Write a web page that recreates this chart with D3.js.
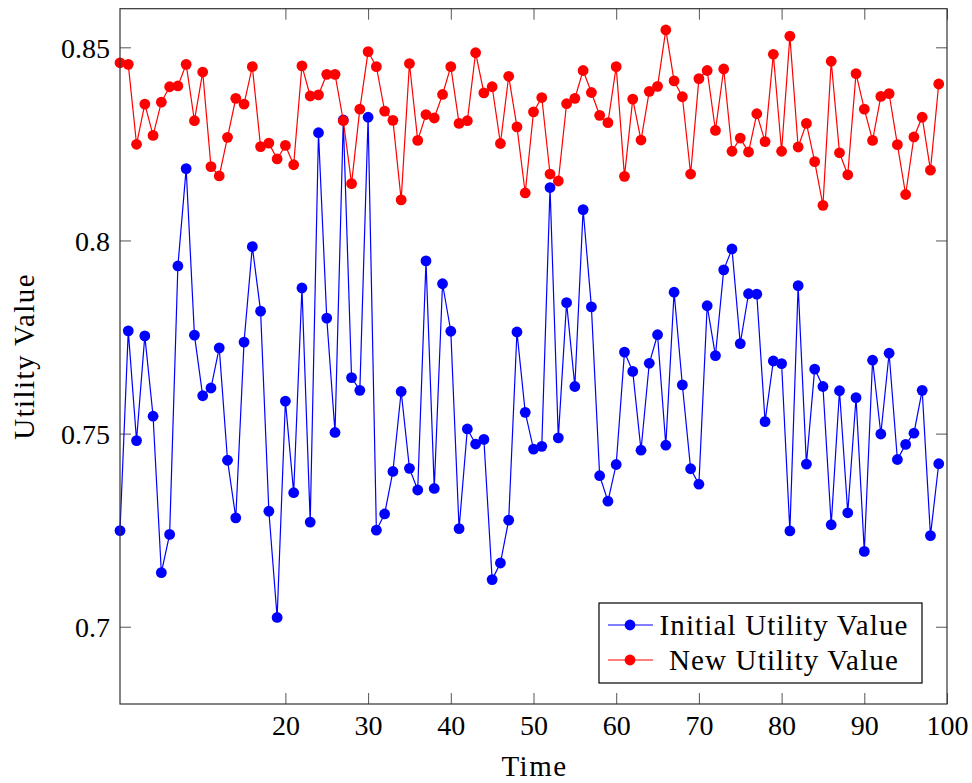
<!DOCTYPE html>
<html>
<head>
<meta charset="utf-8">
<script src="https://cdn.jsdelivr.net/npm/d3@7"></script>
<style>
  html, body { margin: 0; padding: 0; background: #fff; }
  svg { display: block; font-family: "Liberation Serif", "Times New Roman", serif; }
</style>
</head>
<body>
<svg id="chart" width="972" height="783"></svg>
<script>
// Utility values recorded at each time step (t = 0 … 99)
const initialUtility = [
  0.7249, 0.7766, 0.7482, 0.7753, 0.7545, 0.7140, 0.7239, 0.7934, 0.8186, 0.7755,
  0.7598, 0.7618, 0.7722, 0.7431, 0.7282, 0.7737, 0.7984, 0.7817, 0.7299, 0.7024,
  0.7584, 0.7347, 0.7877, 0.7271, 0.8279, 0.7799, 0.7503, 0.8312, 0.7645, 0.7612,
  0.8319, 0.7250, 0.7292, 0.7402, 0.7609, 0.7410, 0.7354, 0.7947, 0.7358, 0.7888,
  0.7765, 0.7254, 0.7512, 0.7473, 0.7485, 0.7122, 0.7165, 0.7276, 0.7763, 0.7555,
  0.7460, 0.7467, 0.8137, 0.7489, 0.7839, 0.7622, 0.8080, 0.7828, 0.7391, 0.7325,
  0.7420, 0.7711, 0.7661, 0.7457, 0.7682, 0.7756, 0.7470, 0.7866, 0.7626, 0.7409,
  0.7369, 0.7831, 0.7702, 0.7924, 0.7978, 0.7733, 0.7862, 0.7861, 0.7531, 0.7688,
  0.7681, 0.7248, 0.7883, 0.7421, 0.7667, 0.7622, 0.7264, 0.7611, 0.7295, 0.7593,
  0.7195, 0.7690, 0.7499, 0.7708, 0.7433, 0.7472, 0.7501, 0.7612, 0.7236, 0.7422
];

const newUtility = [
  0.8460, 0.8456, 0.8249, 0.8353, 0.8272, 0.8358, 0.8398, 0.8400, 0.8456, 0.8310,
  0.8436, 0.8191, 0.8167, 0.8267, 0.8368, 0.8353, 0.8450, 0.8243, 0.8252, 0.8211,
  0.8246, 0.8196, 0.8452, 0.8374, 0.8377, 0.8430, 0.8430, 0.8310, 0.8147, 0.8340,
  0.8489, 0.8450, 0.8335, 0.8311, 0.8105, 0.8458, 0.8259, 0.8326, 0.8317, 0.8378,
  0.8450, 0.8303, 0.8310, 0.8486, 0.8382, 0.8398, 0.8251, 0.8425, 0.8294, 0.8123,
  0.8333, 0.8370, 0.8172, 0.8154, 0.8354, 0.8368, 0.8440, 0.8383, 0.8324, 0.8305,
  0.8450, 0.8166, 0.8366, 0.8260, 0.8386, 0.8399, 0.8545, 0.8413, 0.8372, 0.8172,
  0.8419, 0.8440, 0.8285, 0.8444, 0.8231, 0.8265, 0.8229, 0.8328, 0.8256, 0.8482,
  0.8231, 0.8529, 0.8242, 0.8303, 0.8204, 0.8091, 0.8464, 0.8227, 0.8170, 0.8432,
  0.8340, 0.8259, 0.8373, 0.8380, 0.8248, 0.8119, 0.8268, 0.8319, 0.8182, 0.8405
];

const xTicks = [20, 30, 40, 50, 60, 70, 80, 90, 100];
const yTicks = [0.7, 0.75, 0.8, 0.85];
const yTickLabels = ["0.7", "0.75", "0.8", "0.85"];

const seriesNames = ["Initial Utility Value", "New Utility Value"];
const seriesColors = ["#0000ff", "#ff0000"];

const svg = d3.select("#chart");
const margin = { left: 120, right: 25, top: 8.7, bottom: 79 };
const W = 972, H = 783;
const innerW = W - margin.left - margin.right;
const innerH = H - margin.top - margin.bottom;

const x = d3.scaleLinear().domain([0, 100]).range([margin.left, margin.left + innerW]);
const y = d3.scaleLinear().domain([0.68, 0.86]).range([margin.top + innerH, margin.top]);

const tickLen = 11;
const tickColor = "#555";

// Axes: ticks point inward on all four sides
const axisBottom = d3.axisBottom(x).tickValues(xTicks).tickSizeInner(-tickLen).tickSizeOuter(0).tickPadding(11).tickFormat(d3.format("d"));
const axisTop = d3.axisTop(x).tickValues(xTicks).tickSizeInner(-tickLen).tickSizeOuter(0).tickFormat("");
const axisLeft = d3.axisLeft(y).tickValues(yTicks).tickSizeInner(-tickLen).tickSizeOuter(0).tickPadding(10)
  .tickFormat((d, i) => yTickLabels[i]);
const axisRight = d3.axisRight(y).tickValues(yTicks).tickSizeInner(-tickLen).tickSizeOuter(0).tickFormat("");

function styleAxis(g) {
  g.select(".domain").remove();
  g.selectAll(".tick line").attr("stroke", tickColor).attr("stroke-width", 1);
  g.selectAll(".tick text").attr("fill", "#000").style("font-size", "28px")
    .style("font-family", '"Liberation Serif", "Times New Roman", serif');
}

svg.append("g").attr("transform", `translate(0,${margin.top + innerH})`).call(axisBottom).call(styleAxis)
  .selectAll(".tick text").attr("dy", "0.71em");
svg.append("g").attr("transform", `translate(0,${margin.top})`).call(axisTop).call(styleAxis);
svg.append("g").attr("transform", `translate(${margin.left},0)`).call(axisLeft).call(styleAxis)
  .selectAll(".tick text").attr("dy", "0.35em");
svg.append("g").attr("transform", `translate(${margin.left + innerW},0)`).call(axisRight).call(styleAxis);

// Series lines and markers
const line = d3.line().x((d, i) => x(i)).y(d => y(d));
const allSeries = [initialUtility, newUtility];

allSeries.forEach((vals, k) => {
  const g = svg.append("g");
  g.append("path").datum(vals)
    .attr("d", line)
    .attr("fill", "none")
    .attr("stroke", seriesColors[k])
    .attr("stroke-width", 1.2);
  g.selectAll("circle").data(vals).join("circle")
    .attr("cx", (d, i) => x(i))
    .attr("cy", d => y(d))
    .attr("r", 5.4)
    .attr("fill", seriesColors[k]);
});

// Plot frame
svg.append("rect")
  .attr("x", margin.left).attr("y", margin.top)
  .attr("width", innerW).attr("height", innerH)
  .attr("fill", "none").attr("stroke", "#333").attr("stroke-width", 1.2);

// Axis titles
svg.append("text")
  .attr("x", (margin.left + margin.left + innerW) / 2 + 1)
  .attr("y", 776)
  .attr("text-anchor", "middle")
  .style("font-size", "29px")
  .style("letter-spacing", "1.5px")
  .text("Time");

svg.append("text")
  .attr("transform", `translate(34,${(margin.top + margin.top + innerH) / 2}) rotate(-90)`)
  .attr("text-anchor", "middle")
  .style("font-size", "29px")
  .style("letter-spacing", "1.4px")
  .text("Utility Value");

// Legend
const lg = svg.append("g");
const lgBox = { x: 599, y: 603, w: 323, h: 80 };
lg.append("rect")
  .attr("x", lgBox.x).attr("y", lgBox.y).attr("width", lgBox.w).attr("height", lgBox.h)
  .attr("fill", "#fff").attr("stroke", "#000").attr("stroke-width", 1.2);

seriesNames.forEach((name, k) => {
  const cy = lgBox.y + 22 + k * 35;
  lg.append("line")
    .attr("x1", lgBox.x + 9).attr("x2", lgBox.x + 54)
    .attr("y1", cy).attr("y2", cy)
    .attr("stroke", seriesColors[k]).attr("stroke-width", 1.2);
  lg.append("circle")
    .attr("cx", lgBox.x + 31).attr("cy", cy).attr("r", 5.4)
    .attr("fill", seriesColors[k]);
  lg.append("text")
    .attr("x", 784).attr("y", cy)
    .attr("dy", "0.35em")
    .attr("text-anchor", "middle")
    .style("font-size", "29px")
    .style("letter-spacing", "1.15px")
    .text(name);
});
</script>
</body>
</html>
